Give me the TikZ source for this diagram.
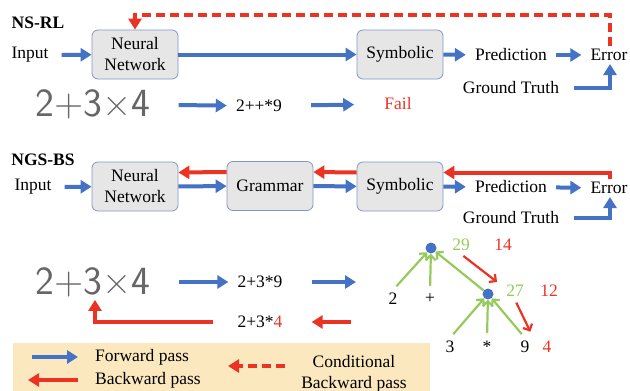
\documentclass[tikz,border=0pt]{standalone}
\usepackage{fontspec}
\setmainfont{Liberation Serif}
\usetikzlibrary{arrows.meta}
\definecolor{fwdblue}{RGB}{68,114,196}
\definecolor{bwdred}{RGB}{235,51,36}
\definecolor{treegreen}{RGB}{150,202,90}
\definecolor{boxgray}{RGB}{230,230,230}
\definecolor{boxedge}{RGB}{130,150,200}
\definecolor{legbg}{RGB}{251,232,190}
\tikzset{
  every node/.style={inner xsep=9pt,inner ysep=3pt},
  blk/.style={draw=boxedge,fill=boxgray,rounded corners=6pt,line width=0.8pt,
    minimum width=86pt,minimum height=49pt,align=center,inner sep=0pt},
  fwd/.style={draw=fwdblue,line width=4pt,-{Triangle[length=11pt,width=13pt]}},
  bwd/.style={draw=bwdred,line width=4pt,-{Triangle[length=11pt,width=13pt]}},
  cond/.style={draw=bwdred,line width=4pt,dash pattern=on 9pt off 5pt,-{Triangle[length=11pt,width=13pt]}},
  upedge/.style={draw=treegreen,line width=2.2pt,-{Straight Barb[length=5pt,width=10pt]}},
  dnedge/.style={draw=bwdred,line width=2.2pt,-{Straight Barb[length=5pt,width=10pt]}},
  tdot/.style={circle,fill=fwdblue,minimum size=11pt,inner sep=0pt},
  hand/.style={font=\sffamily\fontsize{40}{40}\selectfont,text=black!60},
}
\begin{document}
\begin{tikzpicture}[x=1pt,y=1pt,yscale=-1,font=\fontsize{17.5}{21}\selectfont]
\useasboundingbox (0,0) rectangle (630,391);

%%%%%%%%%% NS-RL
% Text Node
\node[font=\bfseries\fontsize{17.5}{21}\selectfont] (t1) at (38,23) {NS-RL};
\node (in1) at (30,55) {Input};
%Rounded Rect
\node[blk] (nn1) at (135,54.5) {Neural\\Network};
\node[blk] (sy1) at (400,54.5) {Symbolic};
% Text Node
\node (pr1) at (511,55) {Prediction};
\node (er1) at (609,55) {Error};
\node (gt1) at (511,88) {Ground Truth};
\coordinate (top1) at (0,15);
%Straight Lines
\draw[fwd,shorten <=4pt] (in1) -- (nn1);
\draw[fwd] (nn1) -- (sy1);
\draw[fwd] (sy1) -- (pr1);
\draw[fwd] (pr1) -- (er1);
\draw[fwd,shorten <=6pt] (gt1.east) -| ([xshift=1pt]er1.south);
\draw[cond] ([xshift=1pt]er1.north) -- ([xshift=1pt]er1.north |- top1) -- (nn1.north |- top1) -- (nn1.north);

% Text Node
\node[hand] (hw1) at (93,104) {2+3×4};
\node (sq1) at (259,106) {2++*9};
\node[text=bwdred] (fl1) at (398,104) {Fail};
%Straight Lines
\draw[fwd,shorten <=19pt] (hw1) -- (sq1);
\draw[fwd,shorten <=20pt,shorten >=21pt] (sq1) -- (fl1);

%%%%%%%%%% NGS-BS
% Text Node
\node[font=\bfseries\fontsize{17.5}{21}\selectfont] (t2) at (43,160) {NGS-BS};
\node (in2) at (33,187) {Input};
%Rounded Rect
\node[blk] (nn2) at (135,186.5) {Neural\\Network};
\node[blk] (gr2) at (270,186) {Grammar};
\node[blk] (sy2) at (400,186.5) {Symbolic};
% Text Node
\node (pr2) at (511,187) {Prediction};
\node (er2) at (609,188) {Error};
\node (gt2) at (511,218) {Ground Truth};
%Straight Lines
\draw[fwd,shorten <=4pt] (in2) -- (nn2);
\draw[fwd] (nn2) -- (gr2);
\draw[fwd] (gr2) -- (sy2);
\draw[fwd] (sy2) -- (pr2);
\draw[fwd] (pr2) -- (er2);
\draw[fwd,shorten <=6pt] (gt2.east) -| ([xshift=1pt]er2.south);
\draw[bwd] ([yshift=-14pt]gr2.west) -- ([yshift=-14pt]nn2.east);
\draw[bwd] ([yshift=-14pt]sy2.west) -- ([yshift=-14pt]gr2.east);
\draw[bwd] ([xshift=1pt]er2.north) |- ([yshift=-14pt]sy2.east);

% Text Node
\node[hand] (hw2) at (93,282) {2+3×4};
\node (sq2) at (260,282) {2+3*9};
\node (rv2) at (260,322) {2+3*\textcolor{bwdred}{4}};
\coordinate (tr) at (356,282);
\coordinate (tl) at (351,322);
%Straight Lines
\draw[fwd,shorten <=19pt] (hw2) -- (sq2);
\draw[fwd,shorten <=20pt] (sq2) -- (tr);
\draw[bwd,shorten >=20pt] (tl) -- (rv2);
\draw[bwd,shorten <=15pt] (rv2.west) -| ([xshift=2pt]hw2.south);

%%%%%%%%%% tree
\node[tdot] (rt) at (431,248) {};
\node[tdot] (ch) at (488,294) {};
% Text Node
\node (l2) at (393,299) {2};
\node (lp) at (430,299) {+};
\node (l3) at (450,347) {3};
\node (ls) at (487,347) {*};
\node (l9) at (525,347) {9};
\node[text=bwdred] (l4) at (547,347) {4};
\node[text=treegreen] (v29) at (461,245) {29};
\node[text=bwdred] (v14) at (503,245) {14};
\node[text=treegreen] (v27) at (515,291) {27};
\node[text=bwdred] (v12) at (549,291) {12};
%Straight Lines
\draw[upedge,shorten <=5pt] (l2.north) -- (rt);
\draw[upedge,shorten <=5pt] (lp.north) -- (rt);
\draw[upedge] (ch) -- (rt);
\draw[upedge,shorten <=5pt] (l3.north) -- (ch);
\draw[upedge,shorten <=5pt] (ls.north) -- (ch);
\draw[upedge,shorten <=5pt] (l9.north) -- (ch);
\draw[dnedge,shorten <=3pt] (v29.south) -- (v27.north west);
\draw[dnedge,shorten <=3pt,shorten >=7pt] (v27.south) -- (l4.north west);

%%%%%%%%%% legend
\fill[legbg] (13,343) rectangle (430,391);
\coordinate (f0) at (32,357);
\coordinate (f1) at (78,357);
\coordinate (b0) at (78,380);
\coordinate (b1) at (28,380);
\coordinate (c0) at (285,366);
\coordinate (c1) at (228,366);
\draw[fwd] (f0) -- (f1);
\draw[bwd] (b0) -- (b1);
\draw[cond] (c0) -- (c1);
% Text Node
\node[anchor=west] (lf) at (86,357) {Forward pass};
\node[anchor=west] (lb) at (86,380) {Backward pass};
\node (lc) at (354,362) {Conditional};
\node (lcb) at (354,384) {Backward pass};

\end{tikzpicture}
\end{document}
